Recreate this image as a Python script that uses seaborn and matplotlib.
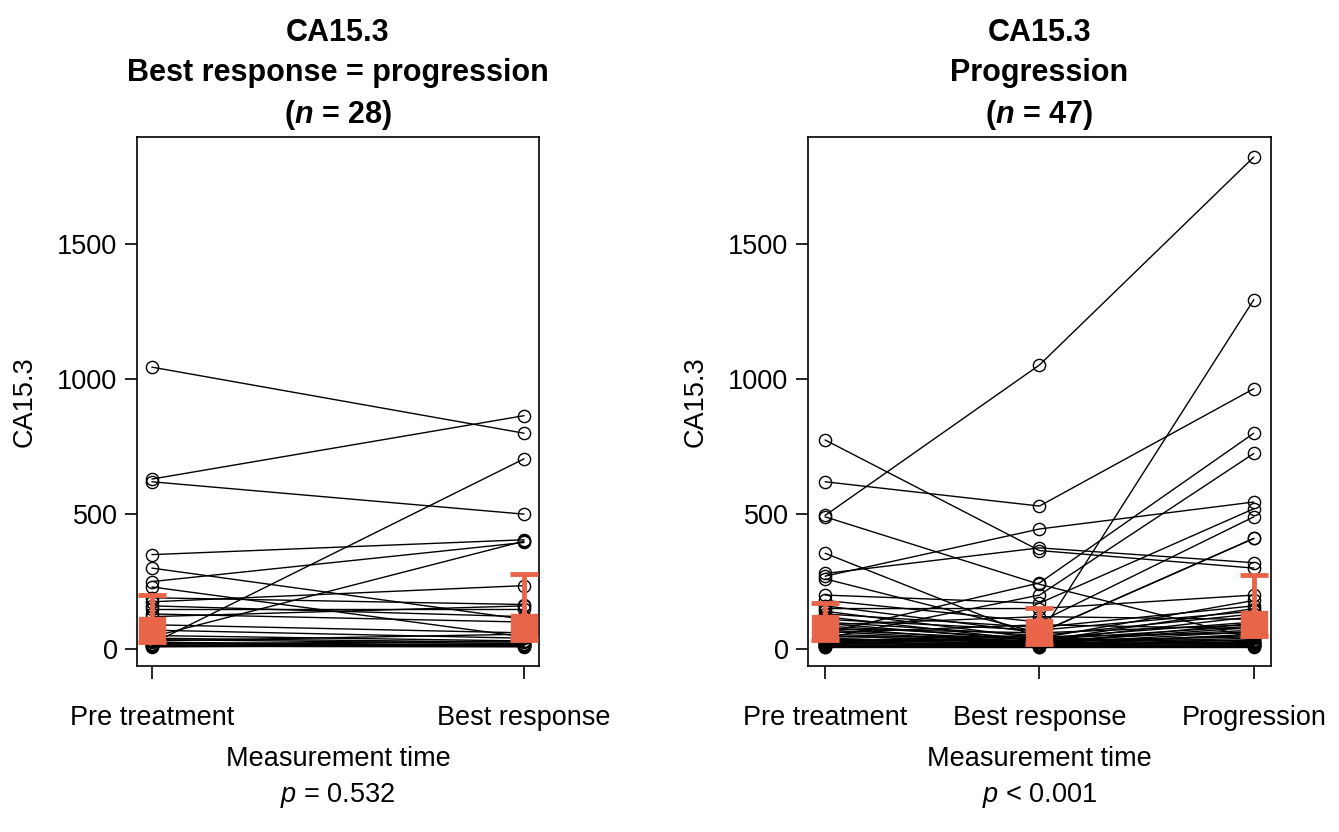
import numpy as np
import pandas as pd
import matplotlib
matplotlib.use("Agg")
import matplotlib.pyplot as plt
import seaborn as sns

sns.set_style("white")
plt.rcParams['font.family'] = ['Liberation Sans', 'DejaVu Sans']
plt.rcParams['mathtext.fontset'] = 'custom'
plt.rcParams['mathtext.rm'] = 'Liberation Sans'
plt.rcParams['mathtext.it'] = 'Liberation Sans:italic'
plt.rcParams['mathtext.bf'] = 'Liberation Sans:bold'
plt.rcParams['mathtext.bfit'] = 'Liberation Sans:bold:italic'
for key in ['text.color', 'axes.labelcolor', 'xtick.color', 'ytick.color']:
    plt.rcParams[key] = 'black'

# left panel: best response = progression (n = 28)
times_l = ["Pre treatment", "Best response"]
pre_l = [1045, 630, 620, 20, 350, 300, 250, 230, 45, 190, 175, 160, 150, 130,
         120, 90, 70, 50, 40, 35, 30, 25, 20, 18, 15, 12, 10, 8]
best_l = [800, 865, 500, 705, 405, 110, 395, 45, 400, 165, 235, 120, 150, 100,
          160, 60, 40, 30, 25, 20, 55, 15, 12, 30, 10, 20, 8, 15]
mid_l = [70, 82]
low_l = [25, 35]
high_l = [200, 278]

# right panel: progression (n = 47)
times_r = ["Pre treatment", "Best response", "Progression"]
pre_r = [495, 30, 620, 60, 40, 775, 490, 355, 270, 280, 260, 200, 180, 160, 150,
         140, 130, 120, 110, 100, 95, 90, 85, 80, 75, 70, 65, 60, 55, 50, 45, 40,
         38, 35, 32, 30, 28, 25, 22, 20, 18, 15, 14, 12, 10, 9, 8]
best_r = [1053, 50, 530, 245, 200, 365, 240, 40, 445, 375, 60, 170, 100, 60, 150,
          40, 80, 30, 70, 50, 30, 120, 40, 20, 60, 35, 25, 90, 30, 20, 45, 15,
          25, 30, 20, 10, 40, 15, 12, 20, 25, 10, 15, 8, 12, 10, 8]
prog_r = [1824, 1295, 965, 800, 725, 300, 40, 20, 545, 320, 410, 520, 490, 410, 200,
          180, 160, 150, 140, 130, 120, 110, 100, 95, 90, 85, 80, 75, 70, 65, 60, 55,
          50, 45, 40, 35, 30, 28, 25, 22, 20, 18, 15, 12, 10, 10, 8]
mid_r = [78, 63, 93]
low_r = [32, 18, 48]
high_r = [170, 152, 275]

orange = "#E8654A"


def long_frame(times, series):
    rows = []
    for t, vals in enumerate(series):
        for pid, v in enumerate(vals):
            rows.append({"patient": pid, "time": t, "value": v})
    return pd.DataFrame(rows)


def panel(ax, times, series, mid, low, high, title, footer):
    df = long_frame(times, series)
    sns.lineplot(data=df, x="time", y="value", units="patient", estimator=None,
                 color="black", lw=1.0, marker="o", markersize=8.8,
                 markerfacecolor="none", markeredgecolor="black",
                 markeredgewidth=1.0, ax=ax, legend=False)
    pos = np.arange(len(times))
    mid = np.array(mid)
    ax.errorbar(pos, mid, yerr=[mid - np.array(low), np.array(high) - mid],
                fmt="s", color=orange, ms=19, elinewidth=3.5, capsize=10,
                capthick=3.5, zorder=5)
    pad = 0.04 * (len(times) - 1)
    ax.set_xlim(-pad, len(times) - 1 + pad)
    ax.set_ylim(-63, 1898)
    ax.set_xticks(pos)
    ax.set_xticklabels(times)
    ax.set_yticks([0, 500, 1000, 1500])
    ax.tick_params(axis="both", direction="out", length=9, width=1.2,
                   color="black", labelsize=19.5, bottom=True, left=True)
    ax.tick_params(axis="x", pad=19)
    ax.tick_params(axis="y", pad=5)
    for s in ax.spines.values():
        s.set_visible(True)
        s.set_color("black")
        s.set_linewidth(1.2)
    ax.set_ylabel("CA15.3", fontsize=19.5, labelpad=14)
    ax.set_xlabel(footer, fontsize=19.5, labelpad=11, linespacing=1.42)
    ax.set_title(title, fontsize=22, fontweight="bold", linespacing=1.42, pad=10)


fig = plt.figure(figsize=(13.39, 8.32), dpi=100)
ax1 = fig.add_axes([0.1023, 0.1995, 0.3002, 0.6358])
ax2 = fig.add_axes([0.6034, 0.1995, 0.3458, 0.6358])

panel(ax1, times_l, [pre_l, best_l], mid_l, low_l, high_l,
      "CA15.3\nBest response = progression\n($\\mathbfit{n}$ = 28)",
      "Measurement time\n$\\mathit{p}$ = 0.532")
panel(ax2, times_r, [pre_r, best_r, prog_r], mid_r, low_r, high_r,
      "CA15.3\nProgression\n($\\mathbfit{n}$ = 47)",
      "Measurement time\n$\\mathit{p}$ < 0.001")

fig.savefig("out.png", dpi=100)
